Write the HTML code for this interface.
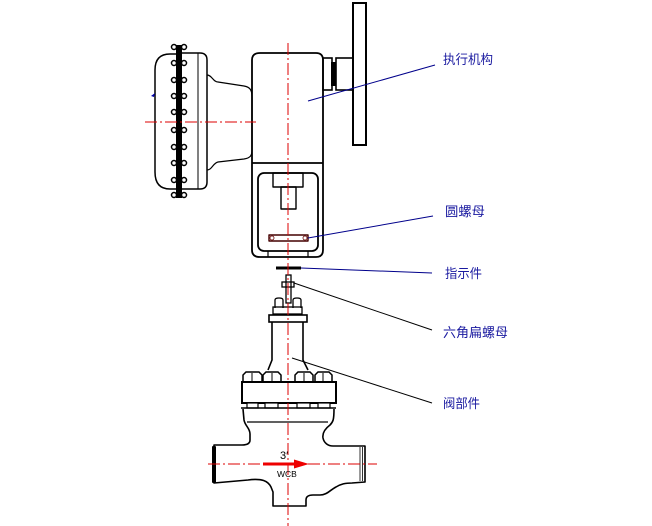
<!DOCTYPE html>
<html><head><meta charset="utf-8"><style>
html,body{margin:0;padding:0;background:#fff;}
svg{display:block;}
text{font-family:"Liberation Sans","Noto Sans CJK SC",sans-serif;}
</style></head><body>
<svg width="652" height="526" viewBox="0 0 652 526" xmlns="http://www.w3.org/2000/svg">
<rect width="652" height="526" fill="#fff"/>
<g fill="none" stroke="#000" stroke-width="1.5" stroke-linejoin="round">
<!-- diaphragm casing -->
<path d="M176,54 L170,54 Q155,54 155,70 L155,172 Q155,189 170,189 L176,189"/>
<path d="M182,53 L200,53 Q207,53 207,60 L207,182 Q207,189 200,189 L182,189"/>
<line x1="198" y1="53" x2="198" y2="189" stroke-width="1"/>
<path d="M207,75 C212,75 213,82 218,82 L244,86 C250,87 252,90 252,97 L252,150 C252,156 250,158 244,159 L218,162 C213,163 212,170 207,170" stroke-width="1.2"/>
</g>
<rect x="176" y="45" width="6" height="153" fill="#000"/>
<g fill="#fff" stroke="#000" stroke-width="1.5">
<circle cx="174" cy="47" r="2.5"/><circle cx="184" cy="47" r="2.5"/>
<circle cx="174" cy="63" r="2.5"/><circle cx="184" cy="63" r="2.5"/>
<circle cx="174" cy="80" r="2.5"/><circle cx="184" cy="80" r="2.5"/>
<circle cx="174" cy="96" r="2.5"/><circle cx="184" cy="96" r="2.5"/>
<circle cx="174" cy="112" r="2.5"/><circle cx="184" cy="112" r="2.5"/>
<circle cx="174" cy="130" r="2.5"/><circle cx="184" cy="130" r="2.5"/>
<circle cx="174" cy="147" r="2.5"/><circle cx="184" cy="147" r="2.5"/>
<circle cx="174" cy="163" r="2.5"/><circle cx="184" cy="163" r="2.5"/>
<circle cx="174" cy="180" r="2.5"/><circle cx="184" cy="180" r="2.5"/>
<circle cx="174" cy="195" r="2.5"/><circle cx="184" cy="195" r="2.5"/>
</g>
<path d="M151,96 l4,-3 l-1,4 z" fill="#00a"/>

<!-- actuator box -->
<g fill="none" stroke="#000" stroke-width="1.8" stroke-linejoin="round">
<path d="M260,53 L316,53 Q323,53 323,60 L323,250 Q323,257 316,257 L260,257 Q252,257 252,250 L252,60 Q252,53 260,53 Z"/>
<line x1="252" y1="163" x2="323" y2="163"/>
<rect x="258" y="173" width="60" height="78" rx="6"/>
<line x1="268" y1="251" x2="268" y2="257" stroke-width="1.2"/>
<line x1="308" y1="251" x2="308" y2="257" stroke-width="1.2"/>
<rect x="273" y="173" width="30" height="14" stroke-width="1.4"/>
<rect x="281" y="187" width="15" height="22" stroke-width="1.4"/>
<rect x="269" y="235" width="39" height="6" stroke-width="1.4" stroke="#400"/>
</g>
<circle cx="272" cy="238" r="2" fill="none" stroke="#600" stroke-width="0.8"/>
<circle cx="305" cy="238" r="2" fill="none" stroke="#600" stroke-width="0.8"/>

<!-- handwheel coupling -->
<g fill="none" stroke="#000" stroke-width="1.6">
<rect x="323" y="58" width="9" height="32"/>
<rect x="336" y="58" width="17" height="32"/>
<rect x="353" y="3" width="13" height="142" stroke-width="2"/>
</g>
<rect x="331" y="62" width="5" height="24" fill="#000"/>

<!-- stem / indicator -->
<rect x="276" y="266.5" width="25" height="3" fill="#000"/>
<g fill="none" stroke="#000" stroke-width="1.3">
<rect x="286" y="275" width="5" height="28"/>
<rect x="282" y="282" width="12" height="5"/>
<path d="M275,308 L275,300 Q275,298 279,298 Q283,298 283,300 L283,308"/>
<path d="M293,308 L293,300 Q293,298 297,298 Q301,298 301,300 L301,308"/>
<rect x="273" y="307" width="29" height="7"/>
<rect x="269" y="315" width="38" height="7" stroke-width="1.6"/>
<path d="M272,322 L272,360 L268,370 M303,322 L303,360 L308,370" stroke-width="1.6"/>
</g>

<!-- bonnet flange -->
<g fill="#fff" stroke="#000" stroke-width="1.5">
<path d="M243,382 L243,375 L246,372 L259,372 L262,375 L262,382"/>
<path d="M263,382 L263,375 L266,372 L278,372 L281,375 L281,382"/>
<path d="M295,382 L295,375 L298,372 L310,372 L313,375 L313,382"/>
<path d="M315,382 L315,375 L318,372 L329,372 L332,375 L332,382"/>
<rect x="242" y="382" width="94" height="21" stroke-width="2"/>
<rect x="247" y="403" width="11" height="5" stroke-width="1.2"/>
<rect x="265" y="403" width="13" height="5" stroke-width="1.2"/>
<rect x="297" y="403" width="13" height="5" stroke-width="1.2"/>
<rect x="318" y="403" width="12" height="5" stroke-width="1.2"/>
</g>
<g stroke="#000" stroke-width="1">
<line x1="252" y1="373" x2="252" y2="382"/><line x1="272" y1="373" x2="272" y2="382"/>
<line x1="304" y1="373" x2="304" y2="382"/><line x1="323" y1="373" x2="323" y2="382"/>
</g>

<!-- valve body -->
<g fill="none" stroke="#000" stroke-width="1.6" stroke-linejoin="round">
<path d="M241,408 L336,408"/>
<path d="M243,409 L244,420 C245,426 250,428 250,434 L250,440 C250,444 246,445 242,445 L214,445 L214,483 L248,480 C262,478 268,481 271,487 L273,492 L273,506 L306,506 L306,500 C306,496 309,495 313,495 L320,495 C327,495 330,490 336,487 C341,484 345,483 352,483 L365,482 L365,446 L333,446 C328,446 324,443 323,438 C322,432 326,428 330,425 C333,422 334,420 334,409"/>
<line x1="247" y1="422" x2="328" y2="422" stroke-width="1.2"/>
<line x1="360" y1="447" x2="360" y2="481" stroke-width="0.8"/>
<line x1="362.5" y1="447" x2="362.5" y2="481" stroke-width="0.8"/>
</g>
<rect x="212" y="446" width="4" height="37" rx="1" fill="#000"/>

<!-- centre lines -->
<g stroke="#d00" stroke-width="1" fill="none" stroke-dasharray="12 3 2 3">
<line x1="288" y1="43" x2="288" y2="526"/>
<line x1="145" y1="122" x2="256" y2="122"/>
<line x1="208" y1="464" x2="377" y2="464"/>
</g>
<line x1="263" y1="464" x2="298" y2="464" stroke="#e00" stroke-width="3"/>
<polygon points="294,459.5 309,464 294,468.5" fill="#e00"/>
<text x="280" y="459" font-size="11" fill="#000">3′</text>
<text x="277" y="477" font-size="8.5" fill="#000">WCB</text>

<!-- leaders -->
<g stroke-width="1" fill="none">
<line x1="308" y1="101" x2="435" y2="65" stroke="#00008b"/>
<line x1="308" y1="238" x2="433" y2="216" stroke="#00008b"/>
<line x1="301" y1="268" x2="432" y2="273" stroke="#00008b"/>
<line x1="294" y1="283" x2="432" y2="330" stroke="#000"/>
<line x1="292" y1="358" x2="432" y2="403" stroke="#000"/>
</g>

<!-- labels -->
<g fill="#1a1aa0" font-size="13" font-family="'Liberation Sans','Noto Sans CJK SC',sans-serif">
<text x="443" y="64" textLength="50" lengthAdjust="spacingAndGlyphs">执行机构</text>
<text x="445" y="216" textLength="40" lengthAdjust="spacingAndGlyphs">圆螺母</text>
<text x="445" y="278" textLength="37" lengthAdjust="spacingAndGlyphs">指示件</text>
<text x="443" y="337" textLength="65" lengthAdjust="spacingAndGlyphs">六角扁螺母</text>
<text x="443" y="408" textLength="37" lengthAdjust="spacingAndGlyphs">阀部件</text>
</g>
</svg>
</body></html>
